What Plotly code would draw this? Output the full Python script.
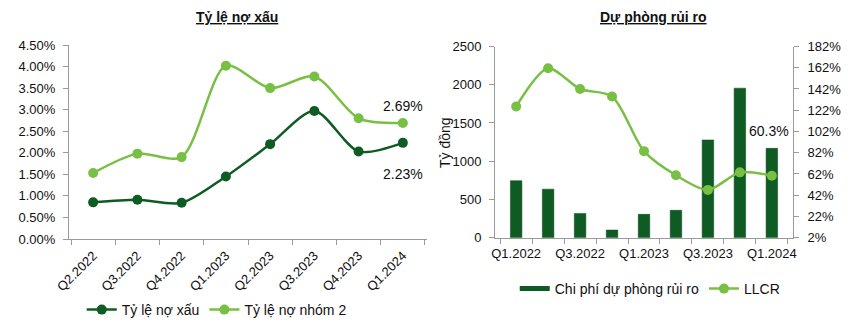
import plotly.graph_objects as go

# ---- data ----
quarters_left = ["Q2.2022", "Q3.2022", "Q4.2022", "Q1.2023", "Q2.2023", "Q3.2023", "Q4.2023", "Q1.2024"]
npl_ratio = [0.0085, 0.0091, 0.0084, 0.0145, 0.0220, 0.0297, 0.0203, 0.0223]
group2_ratio = [0.0153, 0.0198, 0.0190, 0.0402, 0.0350, 0.0377, 0.0280, 0.0269]

quarters_right = ["Q1.2022", "Q2.2022", "Q3.2022", "Q4.2022", "Q1.2023", "Q2.2023", "Q3.2023", "Q4.2023", "Q1.2024"]
provision_cost = [745, 635, 318, 100, 305, 358, 1278, 1955, 1168]
llcr = [125.5, 161.5, 142.0, 135.0, 83.5, 60.8, 47.0, 63.5, 60.3]

DARK = "#0e5c23"
LIGHT = "#78c043"
AX = "#9a9a9a"
FONT = "Liberation Sans, Arial, sans-serif"

fig = go.Figure()

# left chart
fig.add_trace(go.Scatter(x=quarters_left, y=npl_ratio, name="Tỷ lệ nợ xấu", mode="lines+markers",
                         line=dict(color=DARK, width=2.5, shape="spline", smoothing=0.8),
                         marker=dict(color=DARK, size=10), xaxis="x", yaxis="y", legend="legend"))
fig.add_trace(go.Scatter(x=quarters_left, y=group2_ratio, name="Tỷ lệ nợ nhóm 2", mode="lines+markers",
                         line=dict(color=LIGHT, width=2.5, shape="spline", smoothing=0.8),
                         marker=dict(color=LIGHT, size=10), xaxis="x", yaxis="y", legend="legend"))

# right chart
fig.add_trace(go.Bar(x=quarters_right, y=provision_cost, name="Chi phí dự phòng rủi ro",
                     marker=dict(color=DARK, line=dict(color="#0a4519", width=0.5)), width=0.36,
                     xaxis="x2", yaxis="y2", showlegend=False))
# legend key for the bars (flat wide swatch like the original)
fig.add_trace(go.Scatter(x=[None], y=[None], name="Chi phí dự phòng rủi ro", mode="lines",
                         line=dict(color=DARK, width=5), xaxis="x2", yaxis="y2", legend="legend2",
                         hoverinfo="skip"))
fig.add_trace(go.Scatter(x=quarters_right, y=llcr, name="LLCR", mode="lines+markers",
                         line=dict(color=LIGHT, width=2.5, shape="spline", smoothing=0.8),
                         marker=dict(color=LIGHT, size=10), xaxis="x2", yaxis="y3", legend="legend2"))

axis_common = dict(showline=True, linecolor=AX, linewidth=1, ticks="outside", tickcolor=AX,
                   ticklen=5, showgrid=False, zeroline=False, automargin=False,
                   tickfont=dict(family=FONT, size=13, color="#111"))

fig.update_layout(
    width=850, height=327, margin=dict(l=0, r=0, t=0, b=0, pad=0),
    paper_bgcolor="white", plot_bgcolor="white",
    font=dict(family=FONT, size=13, color="#111"),
    xaxis=dict(domain=[69/850, 427/850], anchor="y", type="category", tickson="boundaries",
               tickangle=-45, ticklabelstandoff=3, **axis_common),
    yaxis=dict(domain=[1-239/327, 1-45/327], anchor="x", range=[0, 0.045], dtick=0.005,
               tickformat=".2%", ticklabelstandoff=5, **axis_common),
    xaxis2=dict(domain=[495/850, 793/850], anchor="y2", type="category", tickson="boundaries",
                tickvals=quarters_right,
                ticktext=[q if i % 2 == 0 else "" for i, q in enumerate(quarters_right)],
                tickangle=0, ticklabelstandoff=4, **axis_common),
    yaxis2=dict(domain=[1-237.7/327, 1-46.5/327], anchor="x2", range=[0, 2500], dtick=500,
                ticklabelstandoff=5, **axis_common),
    yaxis3=dict(overlaying="y2", side="right", anchor="x2", range=[2, 182], tick0=2, dtick=20,
                ticksuffix="%", ticklabelstandoff=6, **axis_common),
    legend=dict(orientation="h", x=0.255, xanchor="center", y=1-310/327, yanchor="middle",
                font=dict(family=FONT, size=14, color="#111"), bgcolor="rgba(0,0,0,0)",
                itemwidth=30),
    legend2=dict(orientation="h", x=0.765, xanchor="center", y=1-289/327, yanchor="middle",
                 font=dict(family=FONT, size=14, color="#111"), bgcolor="rgba(0,0,0,0)",
                 itemwidth=30),
    showlegend=True,
    annotations=[
        dict(text="<b><u>Tỷ lệ nợ xấu</u></b>", xref="paper", yref="paper", x=237/850, y=1-17/327,
             xanchor="center", yanchor="middle", showarrow=False,
             font=dict(family=FONT, size=14, color="#111")),
        dict(text="<b><u>Dự phòng rủi ro</u></b>", xref="paper", yref="paper", x=653/850, y=1-17/327,
             xanchor="center", yanchor="middle", showarrow=False,
             font=dict(family=FONT, size=14, color="#111")),
        dict(text="Tỷ đồng", xref="paper", yref="paper", x=445/850, y=1-143/327, textangle=-90,
             xanchor="center", yanchor="middle", showarrow=False,
             font=dict(family=FONT, size=14, color="#111")),
        dict(text="2.69%", xref="x", yref="y", x=quarters_left[-1], y=group2_ratio[-1], yshift=17,
             showarrow=False, font=dict(family=FONT, size=14, color="#111")),
        dict(text="2.23%", xref="x", yref="y", x=quarters_left[-1], y=npl_ratio[-1], yshift=-31,
             showarrow=False, font=dict(family=FONT, size=14, color="#111")),
        dict(text="60.3%", xref="x2", yref="y3", x=quarters_right[-1], y=llcr[-1], yshift=45, xshift=-3,
             showarrow=False, font=dict(family=FONT, size=14, color="#111")),
    ],
)

fig.write_html("out.html")
